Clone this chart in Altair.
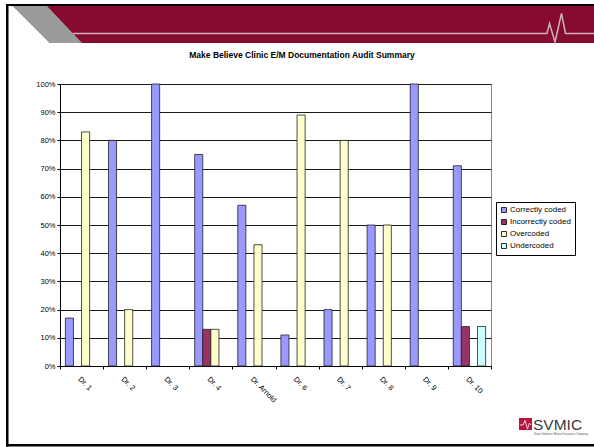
import altair as alt
import pandas as pd

# ---------------- data ----------------
doctors = ["Dr. 1", "Dr. 2", "Dr. 3", "Dr. 4", "Dr. Arnold",
           "Dr. 6", "Dr. 7", "Dr. 8", "Dr. 9", "Dr. 10"]
series_names = ["Correctly coded", "Incorrectly coded", "Overcoded", "Undercoded"]
correct = [17, 80, 100, 75, 57, 11, 20, 50, 100, 71]
incorrect = [0, 0, 0, 13, 0, 0, 0, 0, 0, 14]
overcoded = [83, 20, 0, 13, 43, 89, 80, 50, 0, 0]
undercoded = [0, 0, 0, 0, 0, 0, 0, 0, 0, 14]
series_colors = ["#9999FF", "#993366", "#FFFFCC", "#CCFFFF"]
y_ticks = [0, 10, 20, 30, 40, 50, 60, 70, 80, 90, 100]
title_text = "Make Believe Clinic E/M Documentation Audit Summary"
logo_text = "SVMIC"
logo_tagline = "State Volunteer Mutual Insurance Company"

rows = []
for name, vals in zip(series_names, [correct, incorrect, overcoded, undercoded]):
    for d, v in zip(doctors, vals):
        rows.append({"doctor": d, "series": name, "pct": v})
df = pd.DataFrame(rows)

FONT = "Liberation Sans"
W, H = 431, 282
OX, OY = 60, 84  # plot origin on the page


def px(x):
    return x - OX


def py(y):
    return y - OY


one = alt.Data(values=[{}])


def rect(x1, y1, x2, y2, color):
    return alt.Chart(one).mark_rect(color=color, opacity=1).encode(
        x=alt.value(px(x1)), x2=alt.value(px(x2)),
        y=alt.value(py(y1)), y2=alt.value(py(y2)))


def shape(path, fill=None, stroke=None, sw=0):
    kw = dict(shape=path, size=4, opacity=1)
    if fill is not None:
        kw.update(filled=True, fill=fill, strokeWidth=0)
    else:
        kw.update(filled=False, stroke=stroke, strokeWidth=sw)
    return alt.Chart(one).mark_point(**kw).encode(
        x=alt.value(px(0)), y=alt.value(py(0)))


# ---------------- slide decorations ----------------
banner = rect(8, 6, 594, 43, "#860B2E")
white_tri = shape("M8,6L13,6L50,43L8,43Z", fill="#FFFFFF")
grey_par = shape("M13,6L47,6L82,43L50,43Z", fill="#9A9A9A")
pulse = shape("M73,33.5L547,33.5L549.5,23.5L555,42L561.5,13.5L565.5,33.5L594,33.5",
              stroke="#C9B3BA", sw=1.5)
border_top = rect(6, 4, 594, 6, "#000000")
border_left = rect(6, 4, 8.5, 446.5, "#000000")
border_bottom = rect(6, 444, 594, 446.5, "#000000")

# ---------------- bars ----------------
bars = alt.Chart(df).transform_filter("datum.pct > 0").mark_bar(
    stroke="#222222", strokeWidth=0.8
).encode(
    x=alt.X("doctor:N", sort=doctors,
            scale=alt.Scale(domain=doctors, paddingInner=0, paddingOuter=0),
            axis=alt.Axis(title=None, labelAngle=45, labelAlign="left",
                          labelBaseline="top", labelFontSize=7.5, labelFont=FONT,
                          labelColor="#000000", labelPadding=6, tickSize=3,
                          tickBand="extent", tickColor="#000000",
                          domainColor="#000000", grid=False)),
    xOffset=alt.XOffset("series:N",
                        scale=alt.Scale(domain=series_names, paddingInner=0,
                                        paddingOuter=0.667)),
    y=alt.Y("pct:Q", scale=alt.Scale(domain=[0, 100], nice=False),
            axis=alt.Axis(title=None, values=y_ticks,
                          labelExpr="datum.value + '%'", labelFontSize=7.5,
                          labelFont=FONT, labelColor="#000000", labelPadding=2,
                          tickSize=3, tickColor="#000000", domainColor="#000000",
                          grid=True, gridColor="#1A1A1A", gridWidth=1)),
    fill=alt.Fill("series:N",
                  scale=alt.Scale(domain=series_names, range=series_colors),
                  legend=alt.Legend(title=None, orient="none", legendX=436,
                                    legendY=118, direction="vertical",
                                    strokeColor="#000000", fillColor="#FFFFFF",
                                    padding=4, symbolType="square",
                                    symbolSize=25, symbolStrokeColor="#000000",
                                    symbolStrokeWidth=0.8, labelFontSize=8,
                                    labelFont=FONT, labelColor="#000000",
                                    rowPadding=2, labelOffset=2)),
)

# ---------------- texts ----------------
title = alt.Chart(one).mark_text(
    font=FONT, fontSize=8.5, fontWeight="bold", align="center",
    baseline="middle", color="#000000"
).encode(x=alt.value(px(302)), y=alt.value(py(55)), text=alt.value(title_text))

logo_box = rect(519, 418, 532, 430, "#B8123F")
logo_pulse = shape("M520,425L523,425L525,420.5L527.5,429L529.5,423L531,425",
                   stroke="#FFFFFF", sw=0.8)
logo = alt.Chart(one).mark_text(
    font=FONT, fontSize=15.5, align="left", baseline="alphabetic",
    color="#3A3A3A"
).encode(x=alt.value(px(533)), y=alt.value(py(430)), text=alt.value(logo_text))
tagline = alt.Chart(one).mark_text(
    font=FONT, fontSize=2.8, align="left", baseline="middle", color="#555555"
).encode(x=alt.value(px(534)), y=alt.value(py(433.5)), text=alt.value(logo_tagline))

chart = alt.layer(
    banner, white_tri, grey_par, pulse, border_top, border_left, border_bottom,
    bars, title, logo_box, logo_pulse, logo, tagline
).properties(
    width=W, height=H,
    padding={"left": OX, "top": OY, "right": 594 - OX - W, "bottom": 447 - OY - H},
    autosize=alt.AutoSizeParams(type="none"),
    background="#FFFFFF",
).configure_view(stroke="#888888", strokeWidth=1)

chart.save("out.html", embed_options={"renderer": "svg", "actions": False})
